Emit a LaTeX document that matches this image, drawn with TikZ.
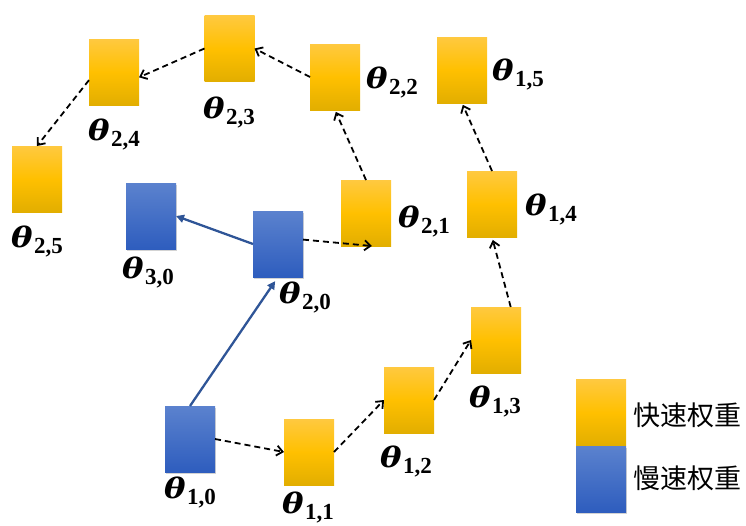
\documentclass[tikz,border=0pt]{standalone}
\usepackage{fontspec}
\newfontfamily\cjk{Noto Sans CJK SC}
\newfontfamily\thfont{DejaVu Serif}
\newfontfamily\subfont{Liberation Serif}
\usetikzlibrary{arrows.meta,shadows}
\definecolor{yTop}{HTML}{FFC940}
\definecolor{yMid}{HTML}{FFC000}
\definecolor{yBot}{HTML}{E2AE00}
\definecolor{bTop}{HTML}{5B82CE}
\definecolor{bBot}{HTML}{2E5DBE}
\definecolor{arrBlue}{HTML}{2F5597}
\newcommand\thlab[1]{\scalebox{1.15}[1]{\thfont\bfseries\itshape\fontsize{28}{30}\selectfont θ}\hspace{1.5pt}\raisebox{-6pt}{\subfont\bfseries\fontsize{23}{25}\selectfont #1}}
\begin{document}
\begin{tikzpicture}[x=1pt,y=-1pt,
 wbox/.style={minimum width=50pt,minimum height=66pt,inner sep=0pt,outer sep=0pt},
 fast/.style={wbox,top color=yTop,bottom color=yBot,middle color=yMid},
 slow/.style={wbox,top color=bTop,bottom color=bBot,drop shadow={opacity=0.35,shadow xshift=1pt,shadow yshift=-2pt}},
 lab/.style={anchor=base,inner sep=0pt},
 dasharr/.style={dash pattern=on 6pt off 4pt, line width=1.8pt, -{Straight Barb[length=6pt,width=10pt]}},
 slowarr/.style={arrBlue,line width=2.3pt,-{Triangle[length=8pt,width=8pt]}},
 legtxt/.style={font=\cjk\fontsize{27}{29}\selectfont,anchor=west,inner sep=0pt}]
\useasboundingbox (0,0) rectangle (746,525);
% boxes
\node[fast] (b25) at (37,179) {};
\node[fast] (b24) at (114,72) {};
\node[fast] (b23) at (229.5,48.5) {};
\node[fast] (b22) at (335,77) {};
\node[slow] (b30) at (151,216) {};
\node[slow] (b20) at (278,244) {};
\node[fast] (b21) at (366,213) {};
\node[fast] (b15) at (462,70) {};
\node[fast] (b14) at (492,204) {};
\node[fast] (b13) at (496,340) {};
\node[fast] (b12) at (409,400) {};
\node[fast] (b11) at (309,452) {};
\node[slow] (b10) at (190,439) {};
% labels
\node[lab] (l25) at (37,247) {\thlab{2,5}};
\node[lab] (l24) at (114,140) {\thlab{2,4}};
\node[lab] (l23) at (229,118) {\thlab{2,3}};
\node[lab] (l22) at (392,88) {\thlab{2,2}};
\node[lab] (l15) at (518,80) {\thlab{1,5}};
\node[lab] (l21) at (424,227) {\thlab{2,1}};
\node[lab] (l14) at (551,215) {\thlab{1,4}};
\node[lab] (l30) at (148,278) {\thlab{3,0}};
\node[lab] (l20) at (305,303) {\thlab{2,0}};
\node[lab] (l13) at (495,407) {\thlab{1,3}};
\node[lab] (l12) at (406,467) {\thlab{1,2}};
\node[lab] (l11) at (308,513) {\thlab{1,1}};
\node[lab] (l10) at (190,498) {\thlab{1,0}};
% connectors
\draw[dasharr] (b10.east) -- (b11.west);
\draw[dasharr] (b11.east) -- (b12.west);
\draw[dasharr] (b12.east) -- (b13.west);
\draw[dasharr,shorten >=3pt] (b13.66) -- (b14.south);
\draw[dasharr,shorten >=2pt] (b14.north) -- (b15.south);
\draw[dasharr] (b20.10) -- (b21.-80);
\draw[dasharr,shorten >=2pt] (b21.north) -- (b22.south);
\draw[dasharr] (b22.west) -- (b23.east);
\draw[dasharr] (b23.west) -- (b24.-12);
\draw[dasharr] (b24.198) -- (b25.north);
\draw[slowarr,shorten >=5pt] (b10.north) -- (b20.south);
\draw[slowarr] (b20.west) -- (b30.east);
% legend
\node[fast] (lgf) at (601,412.5) {};
\node[slow] (lgs) at (601,479) {};
\node[legtxt] (tf) at (633,415) {快速权重};
\node[legtxt] (ts) at (633,478) {慢速权重};
\end{tikzpicture}
\end{document}
